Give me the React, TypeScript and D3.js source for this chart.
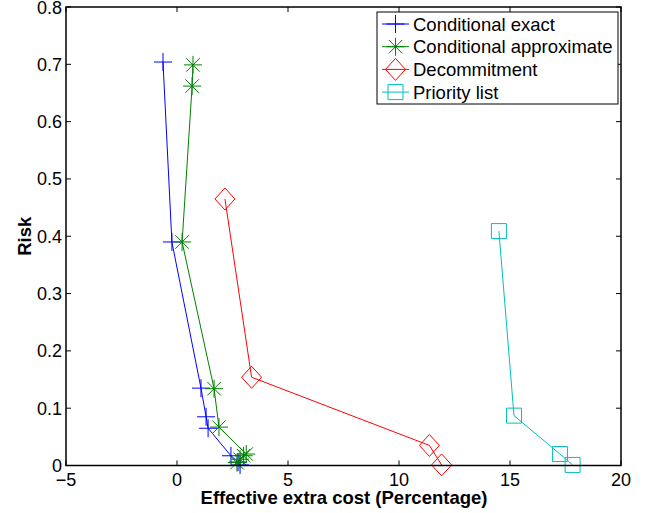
import React, { useEffect, useRef } from 'react';
import * as d3 from 'd3';

// series values (x = effective extra cost %, y = risk)
const exactX = [-0.63, -0.23, 1.08, 1.31, 1.4, 2.43, 2.75, 2.84];
const exactY = [0.704, 0.39, 0.135, 0.085, 0.065, 0.017, 0.006, 0.001];

const approxX = [0.72, 0.68, 0.23, 1.67, 1.89, 3.12, 3.0, 2.84, 2.7];
const approxY = [0.699, 0.662, 0.39, 0.134, 0.067, 0.02, 0.017, 0.011, 0.005];

const decommitX = [2.16, 3.36, 11.37, 11.92];
const decommitY = [0.465, 0.154, 0.035, 0.001];

const priorityX = [14.5, 15.18, 17.25, 17.82];
const priorityY = [0.409, 0.087, 0.02, 0.001];

const xTicks = [-5, 0, 5, 10, 15, 20];
const yTicks = [0, 0.1, 0.2, 0.3, 0.4, 0.5, 0.6, 0.7, 0.8];

const seriesNames = ['Conditional exact', 'Conditional approximate', 'Decommitment', 'Priority list'];
const seriesColors = ['#0000ff', '#008000', '#ff0000', '#00bfbf'];
const seriesMarkers = ['plus', 'star', 'diamond', 'square'];

function markerPath(kind: string, cx: number, cy: number) {
  const p = d3.path();
  if (kind === 'plus') {
    p.moveTo(cx - 9, cy); p.lineTo(cx + 9, cy);
    p.moveTo(cx, cy - 9); p.lineTo(cx, cy + 9);
  } else if (kind === 'star') {
    const r = 9;
    p.moveTo(cx - r, cy); p.lineTo(cx + r, cy);
    p.moveTo(cx, cy - r); p.lineTo(cx, cy + r);
    const d = r * 0.75;
    p.moveTo(cx - d, cy - d); p.lineTo(cx + d, cy + d);
    p.moveTo(cx - d, cy + d); p.lineTo(cx + d, cy - d);
  } else if (kind === 'diamond') {
    p.moveTo(cx, cy - 11); p.lineTo(cx + 10, cy); p.lineTo(cx, cy + 11); p.lineTo(cx - 10, cy); p.closePath();
  } else {
    p.rect(cx - 7.5, cy - 7.5, 15, 15);
  }
  return p.toString();
}

function App() {
  const ref = useRef<SVGSVGElement>(null);

  useEffect(() => {
    const svg = d3.select(ref.current);
    svg.selectAll('*').remove();

    const margin = { top: 7, right: 36, bottom: 47.5, left: 66 };
    const width = 657;
    const height = 513;
    const w = width - margin.left - margin.right;
    const h = height - margin.top - margin.bottom;

    const x = d3.scaleLinear().domain([-5, 20]).range([0, w]);
    const y = d3.scaleLinear().domain([0, 0.8]).range([h, 0]);

    const g = svg.append('g').attr('transform', `translate(${margin.left},${margin.top})`);
    const font = 'Liberation Sans, Arial, sans-serif';
    const fs = 18;

    // ticks on all four sides, pointing in
    const tl = 5;
    g.selectAll('.xt').data(xTicks).enter().append('path')
      .attr('d', (d) => `M${x(d)},${h}v${-tl}M${x(d)},0v${tl}`)
      .attr('stroke', '#000').attr('stroke-width', 1);
    g.selectAll('.yt').data(yTicks).enter().append('path')
      .attr('d', (d) => `M0,${y(d)}h${tl}M${w},${y(d)}h${-tl}`)
      .attr('stroke', '#000').attr('stroke-width', 1);

    g.selectAll('.xl').data(xTicks).enter().append('text')
      .attr('x', (d) => x(d)).attr('y', h + 20)
      .attr('text-anchor', 'middle')
      .attr('font-family', font).attr('font-size', fs)
      .text((d) => (d < 0 ? '\u2212' + Math.abs(d) : String(d)));
    g.selectAll('.yl').data(yTicks).enter().append('text')
      .attr('x', -4).attr('y', (d) => y(d) + 6.5)
      .attr('text-anchor', 'end')
      .attr('font-family', font).attr('font-size', fs)
      .text((d) => (d === 0 ? '0' : d3.format('.1f')(d)));

    // series
    const allX = [exactX, approxX, decommitX, priorityX];
    const allY = [exactY, approxY, decommitY, priorityY];
    const line = d3.line<[number, number]>().x((d) => x(d[0])).y((d) => y(d[1]));
    allX.forEach((xs, i) => {
      const pts: [number, number][] = xs.map((v, j) => [v, allY[i][j]]);
      g.append('path').attr('d', line(pts))
        .attr('fill', 'none').attr('stroke', seriesColors[i]).attr('stroke-width', 1);
      g.selectAll(null).data(pts).enter().append('path')
        .attr('d', (d) => markerPath(seriesMarkers[i], x(d[0]), y(d[1])))
        .attr('fill', 'none').attr('stroke', seriesColors[i]).attr('stroke-width', 1);
    });

    // axes box
    g.append('rect').attr('x', 0).attr('y', 0).attr('width', w).attr('height', h)
      .attr('fill', 'none').attr('stroke', '#000').attr('stroke-width', 1.5);

    // axis titles
    svg.append('text')
      .attr('x', margin.left + w / 2 + 0.5).attr('y', 504)
      .attr('text-anchor', 'middle')
      .attr('font-family', font).attr('font-size', 18.5).attr('font-weight', 'bold')
      .text('Effective extra cost (Percentage)');
    svg.append('text')
      .attr('transform', `translate(31,${margin.top + h / 2}) rotate(-90)`)
      .attr('text-anchor', 'middle')
      .attr('font-family', font).attr('font-size', 18.5).attr('font-weight', 'bold')
      .text('Risk');

    // legend
    const lg = svg.append('g').attr('transform', 'translate(377,12)');
    lg.append('rect').attr('width', 241).attr('height', 92)
      .attr('fill', '#fff').attr('stroke', '#000').attr('stroke-width', 1);
    seriesNames.forEach((name, i) => {
      const cy = 12 + i * 22.7;
      lg.append('path').attr('d', `M5,${cy}H32`)
        .attr('stroke', seriesColors[i]).attr('stroke-width', 1);
      lg.append('path').attr('d', markerPath(seriesMarkers[i], 18.5, cy))
        .attr('fill', 'none').attr('stroke', seriesColors[i]).attr('stroke-width', 1);
      lg.append('text').attr('x', 36).attr('y', cy + 6.5)
        .attr('font-family', font).attr('font-size', 18.5)
        .text(name);
    });
  }, []);

  return <svg ref={ref} width={657} height={513} style={{ position: 'absolute', left: 0, top: 0 }} />;
}

export default App;
